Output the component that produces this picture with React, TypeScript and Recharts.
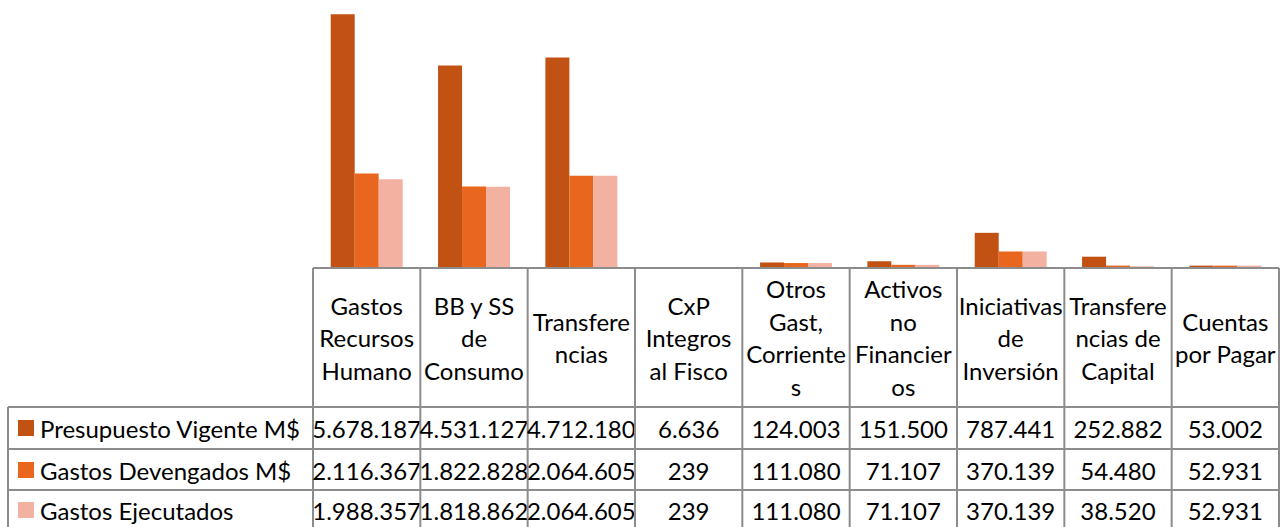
import { Bar, BarChart, XAxis, YAxis } from "recharts";

const categories = [
  "Gastos\nRecursos\nHumano",
  "BB y SS\nde\nConsumo",
  "Transfere\nncias",
  "CxP\nIntegros\nal Fisco",
  "Otros\nGast,\nCorriente\ns",
  "Activos\nno\nFinancier\nos",
  "Iniciativas\nde\nInversión",
  "Transfere\nncias de\nCapital",
  "Cuentas\npor Pagar",
];

const presupuesto = [5678187, 4531127, 4712180, 6636, 124003, 151500, 787441, 252882, 53002];
const devengados = [2116367, 1822828, 2064605, 239, 111080, 71107, 370139, 54480, 52931];
const ejecutados = [1988357, 1818862, 2064605, 239, 111080, 71107, 370139, 38520, 52931];

const seriesNames = ["Presupuesto Vigente M$", "Gastos Devengados M$", "Gastos Ejecutados"];
const seriesKeys = ["presupuesto", "devengados", "ejecutados"];
const seriesColors = ["#C25214", "#E9661F", "#F2B1A1"];
const seriesValues = [presupuesto, devengados, ejecutados];

const data = categories.map((name, i) => ({
  name,
  presupuesto: presupuesto[i],
  devengados: devengados[i],
  ejecutados: ejecutados[i],
}));

const W = 1280;
const H = 527;
const LEFT = 313;
const AXIS_H = 259;
const TABLE_LEFT = 8;
const ROW_TOPS = [407, 449, 490];
const ROW_CENTERS = [428, 470, 510];
const GRID = "#8c8c8c";
const FONT = "Lato, sans-serif";
const FS = 24;

const fmt = (n: number) => String(n).replace(/\B(?=(\d{3})+(?!\d))/g, ".");

function TableTick(props: any) {
  const { x, y, payload, index } = props;
  const half = payload.offset ?? (W - LEFT - 1) / categories.length / 2;
  const x0 = x - half;
  const x1 = x + half;
  const lines = String(payload.value).split("\n");
  const lh = 32.5;
  const headMid = (y + ROW_TOPS[0]) / 2;
  const startY = headMid - ((lines.length - 1) * lh) / 2;
  const i = index as number;

  return (
    <g>
      <line x1={x0} x2={x0} y1={y} y2={H} stroke={GRID} strokeWidth={2} />
      {i === categories.length - 1 && (
        <line x1={x1} x2={x1} y1={y} y2={H} stroke={GRID} strokeWidth={2} />
      )}
      {ROW_TOPS.map((ry) => (
        <line key={ry} x1={x0} x2={x1} y1={ry} y2={ry} stroke={GRID} strokeWidth={2} />
      ))}
      {lines.map((l, k) => (
        <text
          key={k}
          x={x}
          y={startY + k * lh}
          textAnchor="middle"
          dominantBaseline="central"
          fontFamily={FONT}
          fontSize={FS}
          fill="#000"
        >
          {l}
        </text>
      ))}
      {seriesValues.map((vals, r) => (
        <text
          key={r}
          x={x}
          y={ROW_CENTERS[r]}
          textAnchor="middle"
          dominantBaseline="central"
          fontFamily={FONT}
          fontSize={FS}
          fill="#000"
        >
          {fmt(vals[i])}
        </text>
      ))}
      {i === 0 && (
        <g>
          <line x1={TABLE_LEFT} x2={TABLE_LEFT} y1={ROW_TOPS[0]} y2={H} stroke={GRID} strokeWidth={2} />
          {ROW_TOPS.map((ry) => (
            <line key={ry} x1={TABLE_LEFT} x2={x0} y1={ry} y2={ry} stroke={GRID} strokeWidth={2} />
          ))}
          {seriesNames.map((s, r) => (
            <g key={s}>
              <rect x={18} y={ROW_CENTERS[r] - 8} width={16} height={16} fill={seriesColors[r]} />
              <text
                x={40}
                y={ROW_CENTERS[r]}
                dominantBaseline="central"
                fontFamily={FONT}
                fontSize={FS}
                fill="#000"
              >
                {s}
              </text>
            </g>
          ))}
        </g>
      )}
    </g>
  );
}

export default function App() {
  return (
    <div style={{ position: "absolute", left: 0, top: 0, width: W, height: H, background: "#fff" }}>
      <BarChart
        width={W}
        height={H}
        data={data}
        margin={{ top: 0, right: 1, left: LEFT, bottom: 0 }}
        barCategoryGap="16.5%"
        barGap={0}
      >
        <XAxis
          dataKey="name"
          height={AXIS_H}
          interval={0}
          tickLine={false}
          tickSize={0}
          tickMargin={0}
          axisLine={{ stroke: GRID, strokeWidth: 2 }}
          tick={<TableTick />}
        />
        <YAxis hide domain={[0, 6000000]} />
        {seriesKeys.map((k, r) => (
          <Bar
            key={k}
            dataKey={k}
            name={seriesNames[r]}
            fill={seriesColors[r]}
            isAnimationActive={false}
          />
        ))}
      </BarChart>
    </div>
  );
}
